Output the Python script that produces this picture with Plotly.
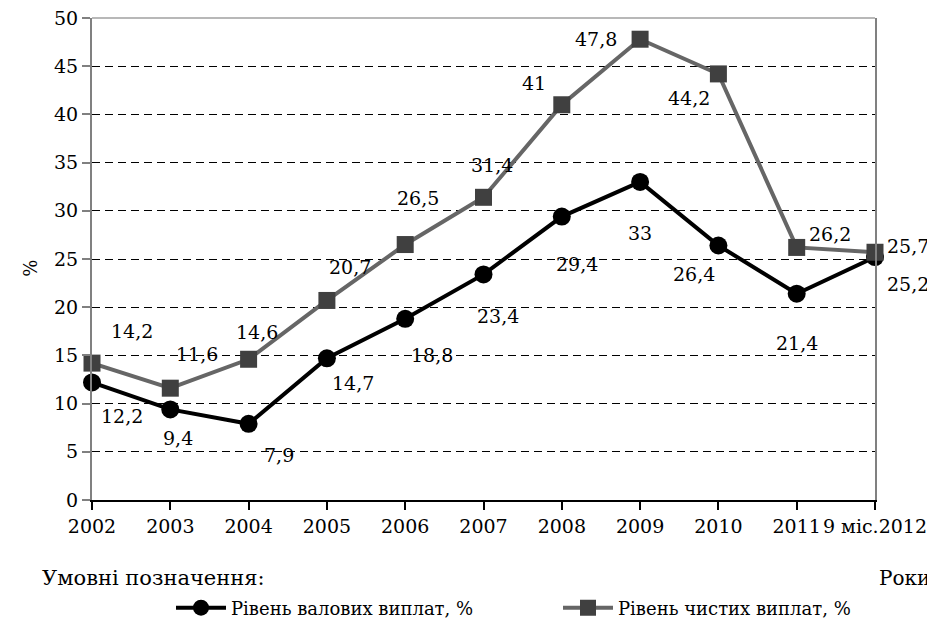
import plotly.graph_objects as go

# ---- data ----
years = ["2002", "2003", "2004", "2005", "2006", "2007", "2008", "2009", "2010", "2011", "9 міс.2012"]
gross = [12.2, 9.4, 7.9, 14.7, 18.8, 23.4, 29.4, 33.0, 26.4, 21.4, 25.2]
net = [14.2, 11.6, 14.6, 20.7, 26.5, 31.4, 41.0, 47.8, 44.2, 26.2, 25.7]
gross_labels = ["12,2", "9,4", "7,9", "14,7", "18,8", "23,4", "29,4", "33", "26,4", "21,4", "25,2"]
net_labels = ["14,2", "11,6", "14,6", "20,7", "26,5", "31,4", "41", "47,8", "44,2", "26,2", "25,7"]
y_ticks = [0, 5, 10, 15, 20, 25, 30, 35, 40, 45, 50]
name_gross = "Рівень валових виплат, %"
name_net = "Рівень чистих виплат, %"

# label offsets (pixels) - style only
gross_dx = [30, 8, 30, 26, 27, 14, 15, 0, -24, 0, 33]
gross_dy = [-34, -29, -31, -25, -36, -42, -47, -51, -28, -49, -27]
net_dx = [40, 27, 8, 23, 13, 8, -28, -44, -29, 33, 33]
net_dy = [32, 34, 27, 33, 47, 32, 22, 0, -24, 13, 6]

FONT = "DejaVu Serif"
idx = list(range(len(years)))

W, H = 927, 614   # page has an 8px body margin

fig = go.Figure()
fig.add_trace(go.Scatter(
    x=idx, y=gross, name=name_gross, mode="lines+markers",
    line=dict(color="#000000", width=4),
    marker=dict(symbol="circle", size=18, color="#000000"),
    cliponaxis=False, legend="legend",
))
fig.add_trace(go.Scatter(
    x=idx, y=net, name=name_net, mode="lines+markers",
    line=dict(color="#666666", width=4),
    marker=dict(symbol="square", size=17, color="#404040"),
    cliponaxis=False, legend="legend2",
))

annotations = []
for i in idx:
    annotations.append(dict(x=i, y=gross[i], text=gross_labels[i], showarrow=False,
                            xshift=gross_dx[i], yshift=gross_dy[i],
                            font=dict(family=FONT, size=19, color="#000000")))
    annotations.append(dict(x=i, y=net[i], text=net_labels[i], showarrow=False,
                            xshift=net_dx[i], yshift=net_dy[i],
                            font=dict(family=FONT, size=19, color="#000000")))

annotations.append(dict(xref="paper", yref="paper", x=-0.066, y=-0.162, xanchor="left",
                        yanchor="middle", text="Умовні позначення:", showarrow=False,
                        font=dict(family=FONT, size=21, color="#000000")))
annotations.append(dict(xref="paper", yref="paper", x=1.0728, y=-0.162, xanchor="right",
                        yanchor="middle", text="Роки", showarrow=False,
                        font=dict(family=FONT, size=20, color="#000000")))
annotations.append(dict(xref="paper", yref="paper", x=-0.079, y=0.48, xanchor="center",
                        yanchor="middle", text="%", textangle=-90, showarrow=False,
                        font=dict(family=FONT, size=18, color="#000000")))

legend_common = dict(orientation="h", xref="container", yref="container",
                     xanchor="left", yanchor="middle", itemwidth=50,
                     font=dict(family=FONT, size=18, color="#000000"),
                     bgcolor="rgba(0,0,0,0)")

fig.update_layout(
    width=W, height=H,
    margin=dict(l=84, r=60, t=10, b=122, autoexpand=False),
    paper_bgcolor="white", plot_bgcolor="white",
    font=dict(family=FONT, size=19, color="#000000"),
    showlegend=True,
    legend=dict(x=163 / W, y=(H - 600) / H, **legend_common),
    legend2=dict(x=550 / W, y=(H - 600) / H, **legend_common),
    annotations=annotations,
    shapes=[dict(type="line", xref="paper", yref="paper", x0=0, x1=1, y0=1, y1=1,
                 line=dict(color="#a0a0a0", width=1.5), layer="above")],
)
fig.update_xaxes(
    range=[0, 10], tickmode="array", tickvals=idx, ticktext=years, automargin=False,
    ticklabeloverflow="allow",
    showgrid=False, zeroline=False, showline=True, linecolor="#000000", linewidth=1.5,
    ticks="outside", ticklen=8, tickcolor="#000000", tickwidth=1.5,
    tickfont=dict(family=FONT, size=19, color="#000000"),
)
fig.update_yaxes(
    range=[0, 50], tickmode="array", tickvals=y_ticks, automargin=False,
    ticklabeloverflow="allow",
    showgrid=True, gridcolor="#000000", gridwidth=1, griddash="8px,5px",
    zeroline=False, showline=True, linecolor="#808080", linewidth=2, mirror=True,
    ticks="outside", ticklen=8, tickcolor="#808080", tickwidth=1.5,
    tickfont=dict(family=FONT, size=19, color="#000000"),
)

fig.write_html("out.html")
